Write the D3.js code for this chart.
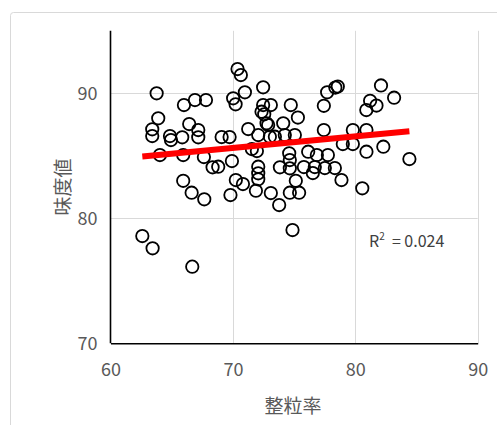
<!DOCTYPE html>
<html>
<head>
<meta charset="utf-8">
<script src="https://cdn.jsdelivr.net/npm/d3@7"></script>
<style>
  html, body { margin: 0; padding: 0; background: #fff; }
  svg { display: block; }
  text { font-family: "Noto Sans CJK JP", "Noto Sans", sans-serif; }
</style>
</head>
<body>
<svg id="chart" width="497" height="425"></svg>
<script>
// 整粒率 (x) and 味度値 (y) for each sample
const seiryuritsu = [
  63.77, 63.9, 63.41, 63.41, 64.04, 64.86, 64.94, 65.86, 66.0, 66.9,
  67.8, 66.43, 67.17, 67.17, 65.94, 67.63, 68.34, 65.94, 66.63, 67.66,
  62.6, 63.44, 66.68, 69.08, 69.73, 68.8, 69.92, 70.24, 70.82, 69.8,
  70.02, 70.22, 70.38, 70.65, 70.98, 71.25, 71.55, 71.96, 72.07, 72.47,
  72.47, 73.1, 72.34, 72.56, 72.75, 72.88, 73.02, 73.43, 74.11, 74.73,
  75.31, 74.24, 75.06, 72.07, 72.07, 72.07, 71.88, 73.1, 73.78, 74.65,
  75.41, 75.14, 73.84, 74.6, 74.65, 74.65, 75.8, 76.69, 76.53, 77.51,
  78.33, 76.15, 76.86, 77.76, 78.87, 74.87, 77.43, 77.7, 78.37, 78.57,
  77.43, 79.8, 78.98, 79.8, 80.91, 80.91, 82.29, 80.57, 84.42, 82.1,
  83.17, 81.21, 81.73, 80.9
];
const midochi = [
  90.0, 88.0, 87.12, 86.58, 85.06, 86.58, 86.26, 86.48, 89.06, 89.46,
  89.46, 87.54, 87.06, 86.48, 85.06, 84.9, 84.08, 83.0, 82.05, 81.52,
  78.58, 77.6, 76.13, 86.5, 86.5, 84.13, 84.58, 83.06, 82.74, 81.86,
  89.6, 89.12, 91.94, 91.46, 90.08, 87.14, 85.54, 85.38, 86.66, 90.48,
  89.06, 89.06, 88.53, 88.32, 87.6, 87.46, 86.53, 86.53, 87.6, 89.06,
  88.06, 86.66, 86.66, 84.13, 83.6, 83.12, 82.21, 82.02, 81.06, 82.05,
  82.05, 83.0, 84.08, 85.2, 84.66, 84.0, 84.1, 84.1, 83.62, 84.02,
  84.02, 85.33, 85.06, 85.06, 83.06, 79.06, 89.0, 90.08, 90.46, 90.54,
  87.06, 87.06, 85.94, 85.94, 87.06, 85.33, 85.73, 82.4, 84.74, 90.63,
  89.65, 89.4, 89.02, 88.66
];

const xTicks = [60, 70, 80, 90];
const yTicks = [70, 80, 90];
const xDomain = [60, 90];
const yDomain = [70, 95];
const xTitle = "整粒率";
const yTitle = "味度値";
const r2Label = "0.024";

const points = seiryuritsu.map((x, i) => ({ x, y: midochi[i] }));

const svg = d3.select("#chart");

// outer chart frame
svg.append("rect")
  .attr("x", 10.5).attr("y", 12.5)
  .attr("width", 520).attr("height", 440)
  .attr("rx", 3)
  .attr("fill", "#fff")
  .attr("stroke", "#d9d9d9")
  .attr("stroke-width", 1);

const plot = { left: 110.5, right: 477.7, top: 30.8, bottom: 343.3 };

const x = d3.scaleLinear().domain(xDomain).range([plot.left, plot.right]);
const y = d3.scaleLinear().domain(yDomain).range([plot.bottom, plot.top]);

// gridlines
const grid = svg.append("g");
grid.selectAll("line.vx")
  .data(xTicks.filter(t => t > xDomain[0]))
  .join("line")
  .attr("x1", d => Math.round(x(d)) + 0.5).attr("x2", d => Math.round(x(d)) + 0.5)
  .attr("y1", plot.top).attr("y2", plot.bottom)
  .attr("stroke", "#d9d9d9").attr("stroke-width", 1);
grid.selectAll("line.hy")
  .data(yTicks.filter(t => t > yDomain[0]))
  .join("line")
  .attr("y1", d => Math.round(y(d)) + 0.5).attr("y2", d => Math.round(y(d)) + 0.5)
  .attr("x1", plot.left).attr("x2", plot.right)
  .attr("stroke", "#d9d9d9").attr("stroke-width", 1);

// axes
const xAxis = d3.axisBottom(x).tickValues(xTicks).tickSize(0).tickPadding(20);
const yAxis = d3.axisLeft(y).tickValues(yTicks).tickSize(0).tickPadding(13);

const gx = svg.append("g").attr("transform", `translate(0,${plot.bottom})`).call(xAxis);
const gy = svg.append("g").attr("transform", `translate(${plot.left},0)`).call(yAxis);
[gx, gy].forEach(g => {
  g.select(".domain").attr("stroke", "#000").attr("stroke-width", 1.6);
  g.selectAll("text").attr("fill", "#595959").attr("font-size", 18);
});
gy.select(".domain").attr("d", `M0,${plot.top}V${plot.bottom}`);

// scatter markers
svg.append("g").selectAll("circle")
  .data(points)
  .join("circle")
  .attr("cx", d => x(d.x))
  .attr("cy", d => y(d.y))
  .attr("r", 6.2)
  .attr("fill", "none")
  .attr("stroke", "#000")
  .attr("stroke-width", 1.8);

// linear least-squares trendline across the data range
const mx = d3.mean(points, d => d.x), my = d3.mean(points, d => d.y);
const sxy = d3.sum(points, d => (d.x - mx) * (d.y - my));
const sxx = d3.sum(points, d => (d.x - mx) ** 2);
const slope = sxy / sxx, intercept = my - slope * mx;
const [xmin, xmax] = d3.extent(points, d => d.x);
svg.append("line")
  .attr("x1", x(xmin)).attr("y1", y(intercept + slope * xmin))
  .attr("x2", x(xmax)).attr("y2", y(intercept + slope * xmax))
  .attr("stroke", "#ff0000")
  .attr("stroke-width", 6);

// R² annotation
const r2 = svg.append("text")
  .attr("x", 369).attr("y", 247)
  .attr("fill", "#404040").attr("font-size", 16)
  .attr("xml:space", "preserve");
r2.append("tspan").text("R");
r2.append("tspan").attr("dy", -7).attr("font-size", 10).text("2");
r2.append("tspan").attr("dy", 7).text("  = " + r2Label);

// axis titles
svg.append("text")
  .attr("x", 293).attr("y", 413)
  .attr("text-anchor", "middle")
  .attr("fill", "#595959").attr("font-size", 19)
  .text(xTitle);
svg.append("text")
  .attr("transform", "translate(70,187) rotate(-90)")
  .attr("text-anchor", "middle")
  .attr("fill", "#595959").attr("font-size", 19)
  .text(yTitle);
</script>
</body>
</html>
